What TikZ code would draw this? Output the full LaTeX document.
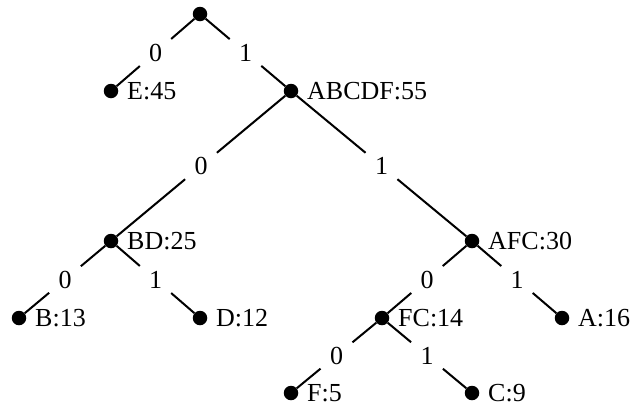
\documentclass[tikz,border=0pt]{standalone}
\usepackage{fontspec}
\setmainfont{Liberation Serif}
\usetikzlibrary{calc}
\begin{document}
\begin{tikzpicture}[x=1pt,y=-1pt,
  dot/.style={circle,fill=black,inner sep=0pt,minimum size=14.5pt},
  nm/.style={anchor=west,inner sep=0pt,xshift=16pt,font=\fontsize{26}{28}\selectfont},
  bit/.style={circle,inner sep=0pt,minimum size=41pt,font=\fontsize{26}{28}\selectfont},
  edge/.style={line width=2pt}]
\useasboundingbox (0,0) rectangle (635,405);
% tree nodes
\node[dot] (root) at (200,14) {};
\node[dot] (E) at (111,91) {};
\node[dot] (ABCDF) at (291,91) {};
\node[dot] (BD) at (111,241) {};
\node[dot] (AFC) at (472,241) {};
\node[dot] (B) at (19,318) {};
\node[dot] (D) at (200,318) {};
\node[dot] (FC) at (382,318) {};
\node[dot] (A) at (562,318) {};
\node[dot] (F) at (291,393) {};
\node[dot] (C) at (472,393) {};
% names
\node[nm] (tE) at (E) {E:45};
\node[nm] (tABCDF) at (ABCDF) {ABCDF:55};
\node[nm] (tBD) at (BD) {BD:25};
\node[nm] (tAFC) at (AFC) {AFC:30};
\node[nm] (tB) at (B) {B:13};
\node[nm] (tD) at (D) {D:12};
\node[nm] (tFC) at (FC) {FC:14};
\node[nm] (tA) at (A) {A:16};
\node[nm] (tF) at (F) {F:5};
\node[nm] (tC) at (C) {C:9};
% edge labels
\node[bit] (b1) at ($(root)!0.5!(E)$) {0};
\node[bit] (b2) at ($(root)!0.5!(ABCDF)$) {1};
\node[bit] (b3) at ($(ABCDF)!0.5!(BD)$) {0};
\node[bit] (b4) at ($(ABCDF)!0.5!(AFC)$) {1};
\node[bit] (b5) at ($(BD)!0.5!(B)$) {0};
\node[bit] (b6) at ($(BD)!0.5!(D)$) {1};
\node[bit] (b7) at ($(AFC)!0.5!(FC)$) {0};
\node[bit] (b8) at ($(AFC)!0.5!(A)$) {1};
\node[bit] (b9) at ($(FC)!0.5!(F)$) {0};
\node[bit] (b10) at ($(FC)!0.5!(C)$) {1};
% edges
\draw[edge] (root) -- (b1) (b1) -- (E);
\draw[edge] (root) -- (b2) (b2) -- (ABCDF);
\draw[edge] (ABCDF) -- (b3) (b3) -- (BD);
\draw[edge] (ABCDF) -- (b4) (b4) -- (AFC);
\draw[edge] (BD) -- (b5) (b5) -- (B);
\draw[edge] (BD) -- (b6) (b6) -- (D);
\draw[edge] (AFC) -- (b7) (b7) -- (FC);
\draw[edge] (AFC) -- (b8) (b8) -- (A);
\draw[edge] (FC) -- (b9) (b9) -- (F);
\draw[edge] (FC) -- (b10) (b10) -- (C);
\end{tikzpicture}
\end{document}
